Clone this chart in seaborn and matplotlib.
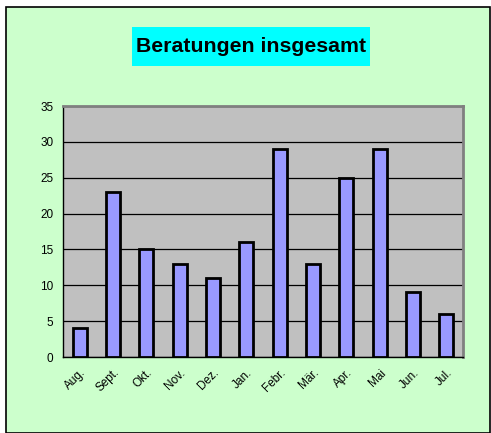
import matplotlib
matplotlib.use("Agg")
import matplotlib.pyplot as plt
import seaborn as sns
import pandas as pd
from matplotlib.patches import Rectangle

months = ["Aug.", "Sept.", "Okt.", "Nov.", "Dez.", "Jan.", "Febr.", "Mär.", "Apr.", "Mai", "Jun.", "Jul."]
beratungen = [4, 23, 15, 13, 11, 16, 29, 13, 25, 29, 9, 6]
yticks = [0, 5, 10, 15, 20, 25, 30, 35]

df = pd.DataFrame({"Monat": months, "Beratungen": beratungen})

sns.set_style("white")
plt.rcParams["font.family"] = ["Liberation Sans", "DejaVu Sans"]
plt.rcParams["text.color"] = "black"
plt.rcParams["xtick.color"] = "black"
plt.rcParams["ytick.color"] = "black"

W, H = 491, 433
fig = plt.figure(figsize=(W / 100, H / 100), dpi=100)
fig.patch.set_facecolor("white")

# green chart area with black border
fig.add_artist(Rectangle((6 / W, 0), (W - 7) / W, (H - 7) / H, transform=fig.transFigure,
                         facecolor="#CCFFCC", edgecolor="black", linewidth=1.2, zorder=0))

ax = fig.add_axes([63 / W, 1 - 357 / H, 400 / W, 251 / H])
sns.barplot(data=df, x="Monat", y="Beratungen", ax=ax, color="#9999FF",
            saturation=1, width=0.42, edgecolor="black", linewidth=2, zorder=3)
ax.set_facecolor("#C0C0C0")
ax.set_ylim(0, 35)
ax.set_xlim(-0.5, len(months) - 0.5)
ax.set_yticks(yticks)
ax.yaxis.grid(True, color="black", linewidth=0.9, zorder=1)
ax.set_axisbelow(True)
ax.set_xlabel("")
ax.set_ylabel("")

ax.set_xticks(range(len(months)))
ax.set_xticklabels(months, rotation=45, ha="right", rotation_mode="anchor", fontsize=8.5)
ax.tick_params(axis="x", length=0, pad=7)
ax.set_xticks([i - 0.5 for i in range(len(months) + 1)], minor=True)
ax.tick_params(axis="x", which="minor", length=4, width=1, color="black", direction="out")
ax.tick_params(axis="y", length=4, width=1, color="black", direction="out", labelsize=8.5, pad=3)

for side in ["top", "right"]:
    ax.spines[side].set_color("#808080")
    ax.spines[side].set_linewidth(2)
for side in ["left", "bottom"]:
    ax.spines[side].set_color("black")
    ax.spines[side].set_linewidth(1)

# title in cyan box
fig.add_artist(Rectangle((132 / W, 1 - 66 / H), 238 / W, 39 / H, transform=fig.transFigure,
                         facecolor="#00FFFF", edgecolor="none", zorder=1))
fig.text(251 / W, 1 - 46.5 / H, "Beratungen insgesamt", ha="center", va="center",
         fontsize=15.3, fontweight="bold", color="black", zorder=2)

fig.savefig("out.png", dpi=100)
